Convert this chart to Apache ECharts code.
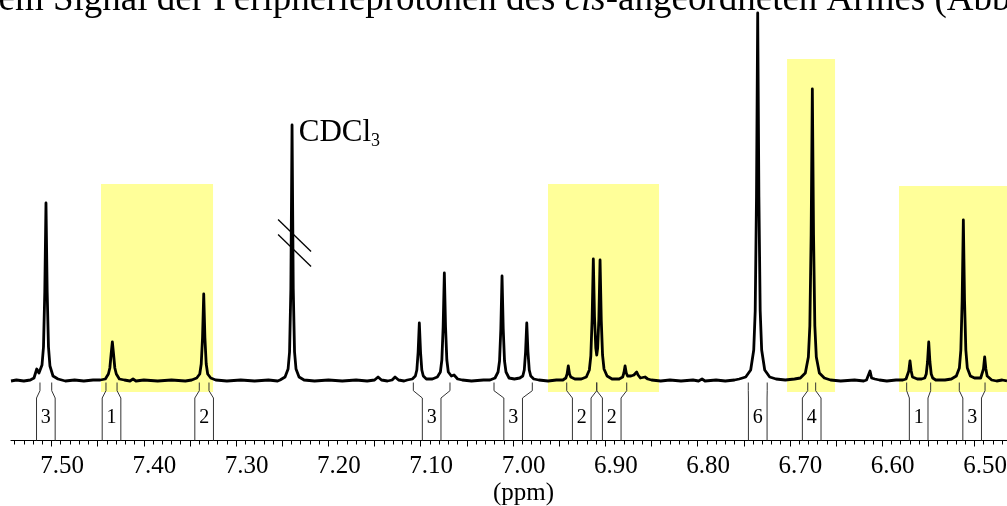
<!DOCTYPE html>
<html lang="de" style="height: 100%">
<head>
  <meta charset="utf-8">
  <title>1H-NMR Ausschnitt (CDCl3)</title>
  <script type="text/javascript" src="https://fastly.jsdelivr.net/npm/echarts@6/dist/echarts.min.js"></script>
</head>
<body style="height: 100%; margin: 0">
  <div id="chart" style="width: 1007px; height: 506px"></div>

  <script type="text/javascript">
    // spectrum: [shift in ppm, intensity above baseline]
    const spectrum = [
      [7.5439, 0], [7.5380, 1], [7.5300, 0], [7.5230, 1], [7.5190, 3], [7.5160, 12], [7.5136, 8],
      [7.5103, 16], [7.5087, 34], [7.5073, 89], [7.5060, 178], [7.5047, 89], [7.5033, 34], [7.5017, 15],
      [7.4984, 5], [7.4930, 2], [7.4850, 0], [7.4750, 1], [7.4650, 0], [7.4550, 1],
      [7.4471, 1], [7.4417, 2], [7.4384, 7], [7.4368, 13], [7.4354, 27], [7.4341, 39], [7.4328, 27],
      [7.4314, 13], [7.4298, 7], [7.4265, 2], [7.4211, 1], [7.4150, 0], [7.4117, 2], [7.4085, 0],
      [7.4000, 1], [7.3850, 0], [7.3700, 1], [7.3550, 0],
      [7.3481, 1], [7.3427, 3], [7.3394, 7], [7.3378, 17], [7.3364, 43], [7.3351, 87], [7.3338, 43],
      [7.3324, 17], [7.3308, 7], [7.3275, 3], [7.3221, 1],
      [7.3100, 0], [7.2950, 1], [7.2800, 0], [7.2650, 1], [7.2550, 0],
      [7.2524, 1], [7.2470, 4], [7.2437, 12], [7.2421, 29], [7.2407, 92], [7.2394, 256], [7.2381, 92],
      [7.2367, 29], [7.2351, 12], [7.2318, 4], [7.2264, 1],
      [7.2150, 0], [7.2000, 1], [7.1850, 0], [7.1700, 1], [7.1580, 0],
      [7.1500, 1], [7.1462, 4], [7.1425, 1], [7.1360, 0], [7.1310, 1], [7.1278, 4], [7.1240, 1], [7.1180, 0],
      [7.1145, 1], [7.1091, 2], [7.1058, 5], [7.1042, 11], [7.1028, 29], [7.1015, 58], [7.1002, 29],
      [7.0988, 11], [7.0972, 5], [7.0939, 2],
      [7.0874, 2], [7.0820, 4], [7.0787, 9], [7.0771, 21], [7.0757, 54], [7.0744, 108], [7.0731, 54],
      [7.0717, 21], [7.0701, 9], [7.0668, 5], [7.0650, 5], [7.0639, 6], [7.0625, 4], [7.0600, 2], [7.0550, 1],
      [7.0450, 0], [7.0320, 1],
      [7.0249, 1], [7.0195, 3], [7.0162, 9], [7.0146, 20], [7.0132, 52], [7.0119, 105], [7.0106, 52],
      [7.0092, 20], [7.0076, 9], [7.0043, 3], [6.9985, 2],
      [6.9927, 3], [6.9894, 5], [6.9878, 11], [6.9864, 29], [6.9851, 58], [6.9838, 29], [6.9824, 11],
      [6.9808, 5], [6.9775, 2], [6.9721, 1], [6.9620, 0], [6.9530, 1],
      [6.9460, 1], [6.9444, 2], [6.9428, 3], [6.9414, 7], [6.9401, 15], [6.9388, 7], [6.9374, 4],
      [6.9358, 3], [6.9330, 2], [6.9290, 2],
      [6.9260, 2], [6.9206, 4], [6.9173, 11], [6.9157, 25], [6.9143, 62], [6.9130, 122], [6.9117, 64],
      [6.9103, 33], [6.9093, 26], [6.9083, 33], [6.9070, 62], [6.9057, 121], [6.9044, 61], [6.9030, 26],
      [6.9014, 12], [6.8981, 5], [6.8927, 2],
      [6.8850, 2], [6.8829, 3], [6.8812, 4], [6.8799, 8], [6.8786, 15], [6.8773, 8], [6.8759, 5],
      [6.8722, 5], [6.8690, 6], [6.8675, 7], [6.8660, 9], [6.8645, 6], [6.8620, 3],
      [6.8600, 3], [6.8570, 4], [6.8540, 2], [6.8500, 1],
      [6.8400, 0], [6.8300, 1], [6.8180, 0], [6.8050, 1], [6.7990, 0], [6.7952, 2], [6.7920, 0],
      [6.7800, 1], [6.7700, 0], [6.7600, 1],
      [6.7549, 2], [6.7479, 4], [6.7425, 11], [6.7392, 31], [6.7376, 70], [6.7362, 184], [6.7349, 368],
      [6.7336, 184], [6.7322, 70], [6.7306, 31], [6.7273, 11], [6.7219, 4], [6.7150, 2],
      [6.7050, 1], [6.6950, 2],
      [6.6887, 3], [6.6833, 8], [6.6800, 24], [6.6784, 55], [6.6770, 146], [6.6757, 292], [6.6744, 146],
      [6.6730, 55], [6.6714, 24], [6.6681, 8], [6.6627, 3], [6.6560, 1],
      [6.6450, 0], [6.6300, 1], [6.6200, 0],
      [6.6170, 1], [6.6150, 3], [6.6132, 10], [6.6115, 3], [6.6095, 1], [6.6080, 2], [6.6060, 3],
      [6.6030, 1], [6.5950, 0], [6.5850, 1],
      [6.5776, 1], [6.5742, 2], [6.5726, 4], [6.5712, 10], [6.5699, 20], [6.5686, 10], [6.5672, 4],
      [6.5656, 2], [6.5620, 2],
      [6.5573, 2], [6.5539, 3], [6.5523, 7], [6.5509, 19], [6.5496, 39], [6.5483, 19], [6.5469, 7],
      [6.5453, 3], [6.5420, 1], [6.5320, 1],
      [6.5251, 2], [6.5197, 5], [6.5164, 13], [6.5148, 31], [6.5134, 80], [6.5121, 161], [6.5108, 80],
      [6.5094, 31], [6.5078, 13], [6.5045, 5], [6.5000, 3],
      [6.4966, 3], [6.4933, 3], [6.4917, 5], [6.4903, 12], [6.4890, 24], [6.4877, 12], [6.4863, 5],
      [6.4847, 3], [6.4814, 1], [6.4760, 0], [6.4700, 1], [6.4648, 0]
    ];

    // integration brackets (ppm range on the spectrum) and their values
    const integralFrom  = [7.5125, 7.4410, 7.3399, 7.1080, 7.0206, 6.9418, 6.9093, 6.7451, 6.6807, 6.5735, 6.5165];
    const integralTo    = [7.4998, 7.4290, 7.3294, 7.0683, 6.9791, 6.9093, 6.8768, 6.7246, 6.6721, 6.5475, 6.4886];
    const integralValue = [3, 1, 2, 3, 3, 2, 2, 6, 4, 1, 3];

    // yellow marked regions
    const highlightFrom = [7.4464, 6.9621, 6.7031, 6.5818];
    const highlightTo   = [7.3250, 6.8418, 6.6511, 6.4648];
    const highlightTop  = [197, 197, 322, 195];

    // solvent signal (peak cut, shown with break marks)
    const solventPpm = 7.2394;
    const solventTop = 256;

    const tickLabels = [7.50, 7.40, 7.30, 7.20, 7.10, 7.00, 6.90, 6.80, 6.70, 6.60, 6.50];

    const ppmMin = 6.4648, ppmMax = 7.5439;
    const yMin = -59.5, yMax = 381;

    const minorTicks = [];
    for (let i = 647; i <= 754; i++) minorTicks.push(i / 100);
    const majorTicks = [];
    for (let i = 130; i <= 150; i++) majorTicks.push(i * 5 / 100);

    const serif = '"Liberation Serif", "DejaVu Serif", serif';

    var dom = document.getElementById('chart');
    var myChart = echarts.init(dom);

    function renderIntegral(params, api) {
      const a = api.value(0), b = api.value(1);
      const mid = (a + b) / 2, half = 0.0101;
      const lineStyle = { stroke: '#333', lineWidth: 1, fill: null };
      const side = (top, bottom) => ({
        type: 'polyline',
        shape: { points: [api.coord([top, -1.5]), api.coord([top, -9.7]), api.coord([bottom, -17]), api.coord([bottom, yMin])] },
        style: lineStyle
      });
      const lp = api.coord([mid, -37]);
      return {
        type: 'group',
        children: [
          side(a, mid + half),
          side(b, mid - half),
          {
            type: 'text', x: lp[0], y: lp[1],
            style: { text: String(api.value(2)), fontFamily: serif, fontSize: 20, fill: '#000', align: 'center', verticalAlign: 'middle' }
          }
        ]
      };
    }

    function renderSolvent(params, api) {
      const p = api.coord([api.value(0), api.value(1)]);
      const marks = [145.5, 130.5].map(level => {
        const q = api.coord([api.value(0), level]);
        return { type: 'line', shape: { x1: q[0] - 14, y1: q[1] - 16, x2: q[0] + 19, y2: q[1] + 16 }, style: { stroke: '#000', lineWidth: 1.3 } };
      });
      return {
        type: 'group',
        children: marks.concat([{
          type: 'text', x: p[0] + 6.7, y: p[1] + 8,
          style: {
            text: '{a|CDCl}{b|3}', align: 'left', verticalAlign: 'middle',
            rich: {
              a: { fontFamily: serif, fontSize: 31, lineHeight: 34, fill: '#000' },
              b: { fontFamily: serif, fontSize: 18, lineHeight: 15, fill: '#000', verticalAlign: 'bottom' }
            }
          }
        }])
      };
    }

    let option = {
      animation: false,
      grid: { left: 11, right: 0, top: 0, bottom: 65.5, containLabel: false, outerBoundsMode: 'none' },
      xAxis: [
        {
          type: 'value', inverse: true, min: ppmMin, max: ppmMax, position: 'bottom',
          axisLine: { onZero: false, lineStyle: { color: '#000', width: 1.2 } },
          axisTick: { customValues: minorTicks, length: 4, lineStyle: { color: '#000', width: 1 } },
          axisLabel: { show: false },
          splitLine: { show: false }
        },
        {
          type: 'value', inverse: true, min: ppmMin, max: ppmMax, position: 'bottom',
          axisLine: { show: false, onZero: false },
          axisTick: { customValues: majorTicks, length: 6, lineStyle: { color: '#000', width: 1 } },
          axisLabel: {
            customValues: tickLabels, formatter: v => v.toFixed(2),
            fontFamily: serif, fontSize: 25, color: '#000', margin: 13, padding: [0, 0, 0, 21]
          },
          splitLine: { show: false }
        }
      ],
      yAxis: { type: 'value', min: yMin, max: yMax, show: false },
      graphic: [
        {
          type: 'text', x: -20, y: 0,
          style: {
            text: '{n|dem Signal der Peripherieprotonen des }{i|cis}{n|-angeordneten Armes (Abb.}',
            verticalAlign: 'middle',
            rich: {
              n: { fontFamily: serif, fontSize: 37, fill: '#000' },
              i: { fontFamily: serif, fontSize: 37, fontStyle: 'italic', fill: '#000' }
            }
          }
        },
        {
          type: 'text', x: 493, y: 493,
          style: { text: '(ppm)', fontFamily: serif, fontSize: 25, fill: '#000', verticalAlign: 'middle' }
        }
      ],
      series: [
        {
          name: 'Markierung',
          type: 'line', data: [], z: 1, silent: true,
          markArea: {
            silent: true,
            itemStyle: { color: '#ffff99' },
            data: highlightFrom.map((f, i) => [{ coord: [f, highlightTop[i]] }, { coord: [highlightTo[i], -11] }])
          }
        },
        {
          name: 'Spektrum',
          type: 'line', data: spectrum, z: 3,
          showSymbol: false, clip: true,
          lineStyle: { color: '#000', width: 2.8, join: 'round' }
        },
        {
          name: 'Integrale',
          type: 'custom', z: 4, silent: true,
          renderItem: renderIntegral,
          encode: { x: [0, 1] },
          data: integralFrom.map((f, i) => [f, integralTo[i], integralValue[i]])
        },
        {
          name: 'Lösungsmittel',
          type: 'custom', z: 4, silent: true,
          renderItem: renderSolvent,
          data: [[solventPpm, solventTop]]
        }
      ]
    };

    myChart.setOption(option);
  </script>
</body>
</html>
